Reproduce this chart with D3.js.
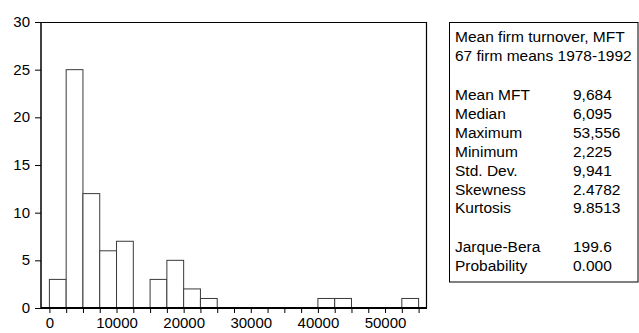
<!DOCTYPE html>
<html>
<head>
<meta charset="utf-8">
<script src="https://cdn.jsdelivr.net/npm/d3@7"></script>
<style>
  body { margin: 0; background: #fff; }
  text { font-family: "Liberation Sans", Arial, sans-serif; font-size: 15px; fill: #000; }
</style>
</head>
<body>
<div id="chart"></div>
<script>
// histogram bins (lower edge) and counts
var binStarts = [0, 2500, 5000, 7500, 10000, 12500, 15000, 17500, 20000, 22500,
                 25000, 27500, 30000, 32500, 35000, 37500, 40000, 42500, 45000, 47500, 50000, 52500];
var counts    = [3, 25, 12, 6, 7, 0, 3, 5, 2, 1,
                 0, 0, 0, 0, 0, 0, 1, 1, 0, 0, 0, 1];
var binWidth = 2500;
var xTickLabels = [0, 10000, 20000, 30000, 40000, 50000];
var yTickLabels = [0, 5, 10, 15, 20, 25, 30];

// stats panel
var headerLines = ["Mean firm turnover, MFT", "67 firm means 1978-1992"];
var statNames  = ["Mean MFT", "Median", "Maximum", "Minimum", "Std. Dev.", "Skewness", "Kurtosis"];
var statValues = ["9,684", "6,095", "53,556", "2,225", "9,941", "2.4782", "9.8513"];
var testNames  = ["Jarque-Bera", "Probability"];
var testValues = ["199.6", "0.000"];

var W = 639, H = 333;
var svg = d3.select("#chart").append("svg")
    .attr("width", W).attr("height", H);

var plot = {left: 41, right: 427, top: 22, bottom: 308};

var x = d3.scaleLinear().domain([-1250, 56250]).range([plot.left, plot.right]);
var y = d3.scaleLinear().domain([0, 30]).range([plot.bottom, plot.top]);

var data = binStarts.map(function(d, i) { return {x0: d, x1: d + binWidth, n: counts[i]}; })
  .filter(function(d) { return d.n > 0; });

// frame top + right
svg.append("path")
  .attr("d", "M" + plot.left + "," + (plot.top + 0.5) + "H" + (plot.right - 0.5) + "V" + plot.bottom)
  .attr("fill", "none").attr("stroke", "#000").attr("stroke-width", 1.2);

// bars
svg.selectAll("rect.bar")
  .data(data)
  .enter()
  .append("rect")
    .attr("class", "bar")
    .attr("x", function(d) { return x(d.x0); })
    .attr("y", function(d) { return y(d.n); })
    .attr("width", function(d) { return x(d.x1) - x(d.x0); })
    .attr("height", function(d) { return y(0) - y(d.n); })
    .attr("fill", "#fff")
    .attr("stroke", "#3a3a3a")
    .attr("stroke-width", 1);

// x axis
var xAxis = svg.append("g")
  .attr("transform", "translate(0," + plot.bottom + ")")
  .call(d3.axisBottom(x)
    .tickValues(d3.range(0, 55001, binWidth))
    .tickSize(5)
    .tickFormat(function(d) { return xTickLabels.indexOf(d) >= 0 ? d : ""; }));
xAxis.select(".domain").remove();
xAxis.selectAll(".tick line").attr("stroke", "#000");
xAxis.selectAll(".tick text")
  .attr("y", 9)
  .attr("dy", "0.71em")
  .style("font-family", "Liberation Sans, Arial, sans-serif")
  .style("font-size", "15px")
  .attr("fill", "#000");
svg.append("line")
  .attr("x1", plot.left).attr("x2", plot.right)
  .attr("y1", plot.bottom).attr("y2", plot.bottom)
  .attr("stroke", "#000").attr("stroke-width", 2);

// y axis
var yAxis = svg.append("g")
  .attr("transform", "translate(" + plot.left + ",0)")
  .call(d3.axisLeft(y).tickValues(yTickLabels).tickSize(6).tickPadding(5));
yAxis.select(".domain").remove();
yAxis.selectAll(".tick line").attr("stroke", "#000");
yAxis.selectAll(".tick text")
  .attr("dy", "0.3em")
  .style("font-family", "Liberation Sans, Arial, sans-serif")
  .style("font-size", "15px")
  .attr("fill", "#000");
svg.append("line")
  .attr("x1", plot.left).attr("x2", plot.left)
  .attr("y1", plot.top).attr("y2", plot.bottom + 1)
  .attr("stroke", "#000").attr("stroke-width", 1.5);

// stats box
var bx = 449.5, by = 22.5;
svg.append("rect")
  .attr("x", bx).attr("y", by)
  .attr("width", 638 - bx).attr("height", 282 - by)
  .attr("fill", "#fff").attr("stroke", "#000").attr("stroke-width", 1);

var labelX = 455, valueX = 573;
var g = svg.append("g").style("font-size", "15.5px");
headerLines.forEach(function(t, i) {
  g.append("text").attr("x", labelX).attr("y", 42 + i * 18.5).style("font-size", "15.5px").text(t);
});
statNames.forEach(function(t, i) {
  g.append("text").attr("x", labelX).attr("y", 100 + i * 18.9).style("font-size", "15.5px").text(t);
  g.append("text").attr("x", valueX).attr("y", 100 + i * 18.9).style("font-size", "15.5px").text(statValues[i]);
});
testNames.forEach(function(t, i) {
  g.append("text").attr("x", labelX).attr("y", 252 + i * 18.9).style("font-size", "15.5px").text(t);
  g.append("text").attr("x", valueX).attr("y", 252 + i * 18.9).style("font-size", "15.5px").text(testValues[i]);
});
</script>
</body>
</html>
